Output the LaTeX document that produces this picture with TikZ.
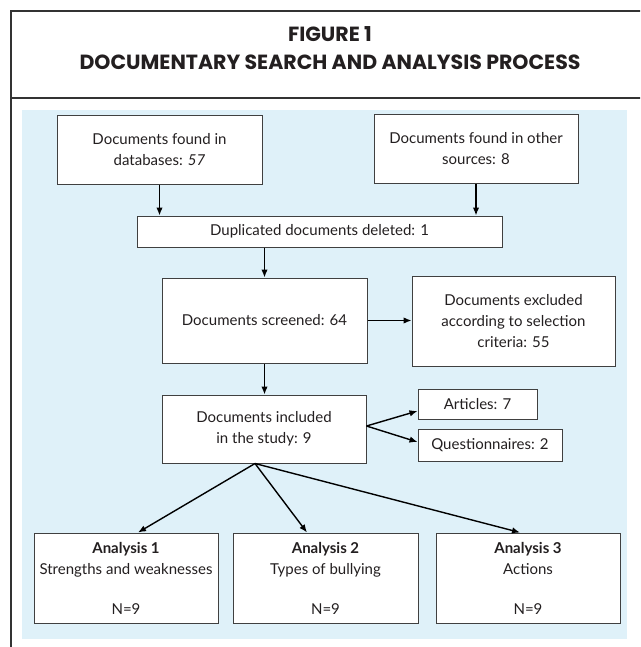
\documentclass[tikz,border=0pt]{standalone}
\usepackage{fontspec}
\setmainfont{Lato}
\newfontfamily\titlefont{Poppins}
\usetikzlibrary{arrows.meta,calc}
\definecolor{panel}{HTML}{DFF1F9}
\definecolor{ink}{HTML}{231F20}
\definecolor{boxline}{HTML}{404040}
\definecolor{frameline}{HTML}{333333}
\begin{document}
\begin{tikzpicture}[x=1pt,y=-1pt,
  box/.style={draw=boxline, fill=white, line width=1pt, align=center, inner sep=0pt, text=ink, font=\fontsize{15}{21}\selectfont},
  arr/.style={draw=black, line width=1.4pt, -{Latex[length=8pt,width=6.5pt]}},
  frame/.style={draw=frameline, line width=2pt},
  ttl/.style={text=ink, inner sep=0pt, font=\titlefont\bfseries\fontsize{20.5}{24}\selectfont}]
\useasboundingbox (0,0) rectangle (640,647);
\begin{scope}
  \clip (0,0) rectangle (640,647);
  \draw[frame] (11,670) -- (11,11) -- (670,11);
  \draw[frame] (11,98) -- (670,98);
\end{scope}
\fill[panel] (22,110) rectangle (627,639);
\node[ttl] (t1) at (330,34) {FIGURE 1};
\node[ttl] (t2) at (330,62) {DOCUMENTARY SEARCH AND ANALYSIS PROCESS};

\node[box, minimum width=205, minimum height=68] (db) at (159.5,150) {Documents found in\\databases: \textit{57}};
\node[box, minimum width=204, minimum height=68] (oth) at (476,149) {Documents found in other\\sources: 8};
\node[box, minimum width=365, minimum height=31] (dup) at (319.5,231.5) {Duplicated documents deleted: 1};
\node[box, minimum width=205, minimum height=85] (scr) at (264.5,320.5) {Documents screened: 64};
\node[box, minimum width=203, minimum height=90] (exc) at (513.5,321) {Documents excluded\\according to selection\\criteria: 55};
\node[box, minimum width=204, minimum height=68] (inc) at (264,429) {Documents included\\in the study: 9};
\node[box, minimum width=119, minimum height=30] (art) at (477.5,404) {Articles: 7};
\node[box, minimum width=144, minimum height=32] (que) at (490,445) {Questionnaires: 2};
\node[box, minimum width=184, minimum height=90] (a1) at (126,578) {\textbf{Analysis 1}\\Strengths and weaknesses\\[19pt]N=9};
\node[box, minimum width=185, minimum height=90] (a2) at (325.5,578) {\textbf{Analysis 2}\\Types of bullying\\[19pt]N=9};
\node[box, minimum width=184, minimum height=90] (a3) at (528,578) {\textbf{Analysis 3}\\Actions\\[19pt]N=9};

\draw[arr] (db.south) -- (db.south |- dup.north);
\draw[arr] (oth.south) -- (oth.south |- dup.north);
\draw[arr] (scr.north |- dup.south) -- (scr.north);
\draw[arr] (scr.east) -- (scr.east -| exc.west);
\draw[arr] (scr.south) -- (scr.south |- inc.north);
\coordinate (f1) at ([yshift=3pt]inc.east);
\draw[arr] (f1) -- ([yshift=-7pt]art.west);
\draw[arr] (f1) -- ([yshift=3pt]que.west);
\coordinate (f2) at ([xshift=-9pt]inc.south);
\draw[arr] (f2) -- ([xshift=12pt]a1.north);
\draw[arr] (f2) -- ([xshift=-18.5pt]a2.north);
\draw[arr] (f2) -- ([xshift=-8pt]a3.north);
\end{tikzpicture}
\end{document}
